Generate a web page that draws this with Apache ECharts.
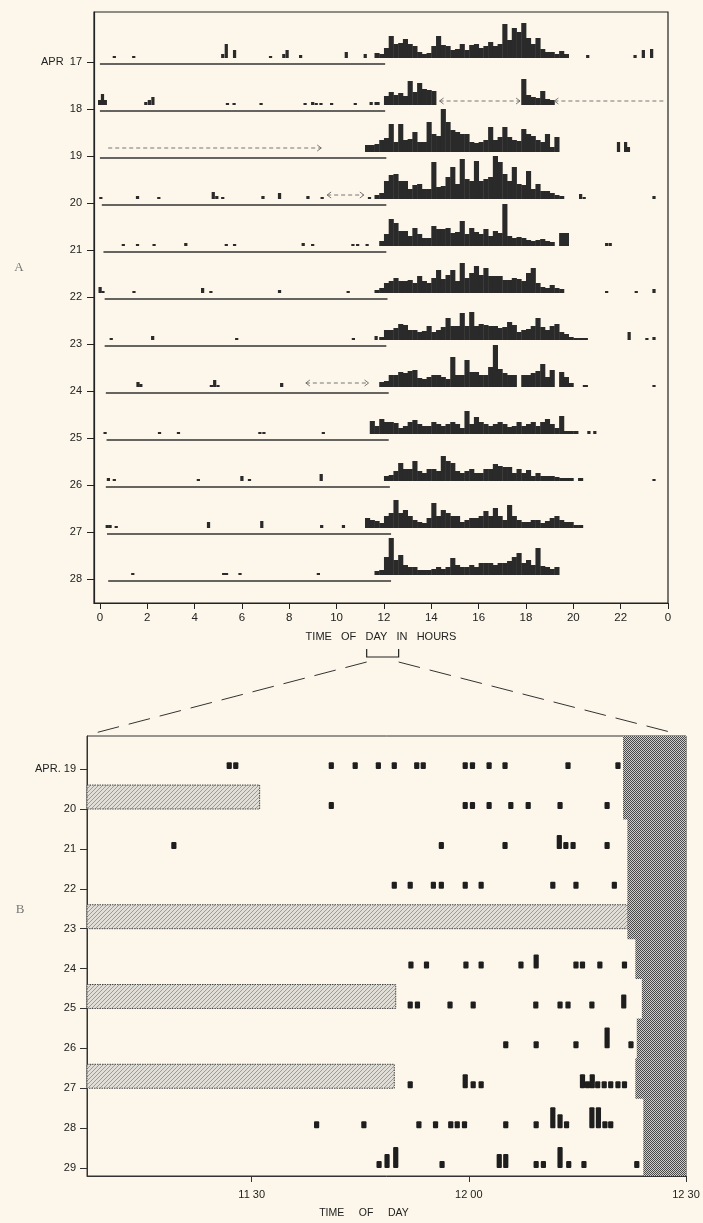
<!DOCTYPE html>
<html><head><meta charset="utf-8">
<script src="https://cdn.jsdelivr.net/npm/echarts@6/dist/echarts.min.js"></script>
<style>html,body{margin:0;padding:0;background:#fcf7ea;} #c{width:703px;height:1223px;}</style>
</head><body><div id="c"></div>
<script>
// ================= PANEL A DATA (hours, activity counts) =================
const daysA = ['APR  17','18','19','20','21','22','23','24','25','26','27','28'];
const hourTicks = [0,2,4,6,8,10,12,14,16,18,20,22,24];
const binHours = 0.2;
const actStart = [11.6, 11.6, 11.2, 11.6, 11.6, 11.6, 11.8, 11.8, 11.4, 12.0, 11.2, 11.6];
const act17 = [5,4,10,22,14,15,19,14,12,6,4,5,12,22,13,12,8,9,14,8,13,14,10,12,16,12,14,34,18,30,26,35,20,14,20,9,6,6,4,7,4];
const act18 = [3,0,9,13,10,12,9,24,13,22,16,15,14,0,0,0,0,0,0,0,0,0,0,0,0,0,0,0,0,0,0,26,10,8,7,14,6,5];
const act19 = [7,7,8,12,14,28,10,28,12,13,20,10,10,30,18,16,43,30,22,20,18,18,10,9,10,12,25,12,15,25,15,12,11,23,18,16,12,10,18,5,15];
const act20 = [4,6,18,24,25,18,18,10,14,15,10,10,37,12,13,22,32,15,40,20,18,38,18,20,22,43,37,25,18,32,15,14,28,10,15,8,8,6,4,3];
const act21 = [0,5,12,27,23,15,15,10,18,12,8,8,20,17,17,18,13,14,25,12,18,14,12,17,10,15,13,42,10,8,9,8,6,5,6,7,5,4,0,13,13];
const act22 = [3,5,10,12,15,12,12,13,10,17,12,10,15,23,14,18,23,12,30,15,20,27,18,25,17,17,17,13,13,15,14,12,20,25,10,6,5,8,5,4];
const act23 = [3,10,10,12,16,15,10,10,8,9,14,8,10,13,22,14,14,27,14,28,14,16,15,14,14,12,13,18,15,8,10,11,14,22,13,10,14,16,8,6,3,2,2,2];
const act24 = [5,6,12,12,15,14,16,17,9,8,10,12,12,10,8,30,12,12,27,15,15,12,12,20,42,18,14,12,12,0,12,12,14,16,23,10,17,0,15,10,4,0,0,2];
const act25 = [13,8,15,12,12,11,6,8,12,14,10,8,8,12,10,8,10,12,10,6,23,10,17,12,10,8,10,12,10,7,8,12,8,10,12,8,12,15,10,6,18,3,3,3];
const act26 = [5,6,10,18,12,12,20,10,8,12,12,10,25,20,18,10,8,10,12,8,8,12,12,17,15,14,14,8,12,8,11,5,8,5,5,5,4,3,3,3,0,3];
const act27 = [10,8,7,5,12,15,28,15,18,12,8,6,5,10,25,12,18,15,12,12,6,8,10,10,12,17,12,20,12,8,23,12,8,6,6,8,8,5,7,10,12,8,6,6,3,3];
const act28 = [4,5,18,37,15,20,10,8,8,5,5,5,6,8,6,8,17,10,8,8,10,8,12,12,12,10,12,12,14,18,22,12,15,10,27,9,8,6,8];
// isolated activity bursts: [hour, count]
const spots17 = [[0.6,2],[1.42,2],[5.18,4],[5.33,14],[5.68,8],[7.2,2],[7.76,4],[7.9,8],[8.47,3],[10.4,6],[11.2,4],[20.6,3],[22.6,3],[22.95,8],[23.3,9]];
const spots18 = [[-0.02,5],[0.1,11],[0.22,5],[1.93,3],[2.08,5],[2.23,8],[5.38,2],[5.66,2],[6.8,2],[8.66,2],[8.98,3],[9.13,2],[9.33,2],[9.78,2],[10.78,2],[11.45,3]];
const spots19 = [[21.9,10],[22.2,10],[22.32,5]];
const spots20 = [[0.03,2],[1.58,3],[2.48,2],[4.78,7],[4.93,3],[5.18,2],[6.88,3],[7.58,6],[8.78,3],[9.38,2],[11.38,2],[20.3,5],[20.45,2],[23.4,3]];
const spots21 = [[0.98,2],[1.58,2],[2.28,2],[3.62,3],[5.33,2],[5.68,2],[8.58,3],[8.98,2],[10.68,2],[10.88,2],[11.28,2],[21.4,3],[21.55,3]];
const spots22 = [[0.0,6],[0.12,2],[1.43,2],[4.33,5],[4.68,2],[7.58,3],[10.48,2],[21.4,2],[22.65,2],[23.4,4]];
const spots23 = [[0.47,2],[2.22,4],[5.77,2],[10.7,2],[11.66,4],[22.35,8],[23.1,2],[23.4,3]];
const spots24 = [[1.6,5],[1.72,3],[4.7,2],[4.84,7],[4.98,2],[7.67,4],[23.4,2]];
const spots25 = [[0.21,2],[2.51,2],[3.31,2],[6.75,2],[6.92,2],[9.43,2],[20.65,3],[20.9,3]];
const spots26 = [[0.35,3],[0.6,2],[4.15,2],[5.99,5],[6.31,2],[9.34,7],[23.4,2]];
const spots27 = [[0.3,3],[0.42,3],[0.68,2],[4.58,6],[6.83,7],[9.36,3],[10.28,3]];
const spots28 = [[1.38,2],[5.22,2],[5.34,2],[5.91,2],[9.22,2]];
// dark-period underline per day: [from hour, to hour]
const underline = [[0.0,12.05],[0.0,12.05],[0.0,12.1],[0.08,12.1],[0.15,12.1],[0.2,12.15],[0.2,12.1],[0.25,12.2],[0.28,12.2],[0.25,12.25],[0.3,12.3],[0.35,12.3]];
// missing-record arrows: [day index, from hour, to hour, left head, right head]
const arrowsA = [[1,14.35,17.75,1,1],[1,19.2,23.9,1,0],[2,0.35,9.35,0,1],[3,9.6,11.15,1,1],[7,8.7,11.35,1,1]];
const zoomSpan = [11.27, 12.62];

// ================= PANEL B DATA (minutes after 11:00, units) =================
const daysB = ['APR. 19','20','21','22','23','24','25','26','27','28','29'];
const minuteTicks = [30, 60, 90];
const minuteLabels = ['11 30','12 00','12 30'];
const marks19 = [[26.9,1],[27.8,1],[41.0,1],[44.3,1],[47.5,1],[49.7,1],[52.8,1],[53.7,1],[59.5,1],[60.5,1],[62.8,1],[65.0,1],[73.7,1],[80.6,1]];
const marks20 = [[41.0,1],[59.5,1],[60.5,1],[62.8,1],[65.8,1],[68.2,1],[72.6,1],[79.1,1]];
const marks21 = [[19.25,1],[56.2,1],[65.0,1],[72.5,2],[73.4,1],[74.4,1],[79.1,1]];
const marks22 = [[49.7,1],[51.9,1],[55.1,1],[56.2,1],[59.5,1],[61.7,1],[71.6,1],[74.8,1],[80.1,1]];
const marks23 = [];
const marks24 = [[52.0,1],[54.15,1],[59.6,1],[61.7,1],[67.2,1],[69.3,2],[74.8,1],[75.7,1],[78.1,1],[81.5,1]];
const marks25 = [[51.9,1],[52.9,1],[57.4,1],[60.6,1],[69.25,1],[72.6,1],[73.7,1],[77.0,1],[81.4,2]];
const marks26 = [[65.1,1],[69.3,1],[74.8,1],[79.1,3],[82.4,1]];
const marks27 = [[51.9,1],[59.5,2],[60.6,1],[61.7,1],[75.7,2],[76.4,1],[77.05,2],[77.8,1],[78.7,1],[79.6,1],[80.6,1],[81.5,1]];
const marks28 = [[38.97,1],[45.5,1],[53.1,1],[55.4,1],[57.5,1],[58.4,1],[59.4,1],[65.1,1],[69.3,1],[71.6,3],[72.6,2],[73.5,1],[77.0,3],[77.9,3],[78.8,1],[79.6,1]];
const marks29 = [[47.6,1],[48.7,2],[49.9,3],[56.3,1],[64.2,2],[65.1,2],[69.3,1],[70.3,1],[72.6,3],[73.8,1],[75.9,1],[83.2,1]];
// inactive (hatched) spans: [day index, from minute, to minute]
const restBars = [[1,7.25,31.1],[4,7.25,82.0],[6,7.25,49.9],[8,7.25,49.7]];
// lights-on minute per day
const lightsOn = [81.3, 81.3, 81.9, 81.9, 81.9, 83.0, 83.9, 83.2, 83.0, 84.1, 84.1];

// ================= BUILD =================
const FONT = "'Liberation Sans', Arial, sans-serif";
const INK = '#2a2a2a';
const ROW = 47, SPOT_W = 0.12, SQ_W = 0.72, UNIT = 0.175, REST_H = 0.6;
const A_MIN = -28, A_MAX = 563, B_MIN = -0.2, B_MAX = 10.83, BX_MIN = 7.25, BX_MAX = 90;
const baseOf = k => (11 - k) * ROW;

const actAll = [act17,act18,act19,act20,act21,act22,act23,act24,act25,act26,act27,act28];
const spotsAll = [spots17,spots18,spots19,spots20,spots21,spots22,spots23,spots24,spots25,spots26,spots27,spots28];
const histData = [];
actAll.forEach((arr,k)=>arr.forEach((c,i)=>{ if(c>0) histData.push([k, actStart[k]+i*binHours, c, binHours]); }));
spotsAll.forEach((arr,k)=>arr.forEach(s=>histData.push([k, s[0]-SPOT_W/2, s[1], SPOT_W])));
const ulData = underline.map((u,k)=>[k,u[0],u[1]]);

const marksAll = [marks19,marks20,marks21,marks22,marks23,marks24,marks25,marks26,marks27,marks28,marks29];
const markData = [];
marksAll.forEach((arr,j)=>arr.forEach(m=>markData.push([j, m[0], m[1]])));
const darkData = lightsOn.map((m,j)=>[j, m]);

function makePattern(kind){
  const c = document.createElement('canvas');
  if(kind==='hatch'){
    c.width = c.height = 4; const g = c.getContext('2d');
    g.fillStyle = '#e0ded7'; g.fillRect(0,0,4,4);
    g.strokeStyle = '#94928c'; g.lineWidth = 0.9;
    g.beginPath(); g.moveTo(0,4); g.lineTo(4,0); g.moveTo(-1,1); g.lineTo(1,-1); g.moveTo(3,5); g.lineTo(5,3); g.stroke();
  } else {
    c.width = c.height = 2; const g = c.getContext('2d');
    g.fillStyle = '#cfccc5'; g.fillRect(0,0,2,2);
    g.fillStyle = '#4a4a4a'; g.fillRect(0,0,1,1); g.fillRect(1,1,1,1);
  }
  return {image: c, repeat: 'repeat'};
}
const HATCH = makePattern('hatch'), DARK = makePattern('dark');

const axisText = {color:'#222', fontSize:11.5, fontFamily: FONT};
const option = {
  backgroundColor: '#fcf7ea',
  animation: false,
  grid: [
    {left:94, top:12, width:574, height:591, show:true, borderColor:'#222', borderWidth:1.2, backgroundColor:'transparent'},
    {left:87, top:736, width:599, height:440, show:true, borderColor:'#333', borderWidth:1, backgroundColor:'transparent'}
  ],
  xAxis: [
    {gridIndex:0, type:'value', min:-0.25, max:24,
     axisLine:{show:true, onZero:false, lineStyle:{color:'#222', width:1.2}},
     axisTick:{show:true, customValues:hourTicks, length:6, lineStyle:{color:'#222'}},
     axisLabel:Object.assign({customValues:hourTicks, margin:9, formatter:v=> v===24 ? '0' : String(v)}, axisText),
     splitLine:{show:false},
     name:'TIME   OF   DAY   IN   HOURS', nameLocation:'middle', nameGap:28,
     nameTextStyle:{color:'#222', fontSize:11, fontFamily:FONT}},
    {gridIndex:1, type:'value', min:BX_MIN, max:BX_MAX,
     axisLine:{show:true, onZero:false, lineStyle:{color:'#333', width:1}},
     axisTick:{show:true, customValues:minuteTicks, length:6, lineStyle:{color:'#333'}},
     axisLabel:Object.assign({customValues:minuteTicks, margin:13, formatter:v=>minuteLabels[minuteTicks.indexOf(v)]}, axisText, {fontSize:11}),
     splitLine:{show:false}}
  ],
  yAxis: [
    {gridIndex:0, type:'value', min:A_MIN, max:A_MAX,
     axisLine:{show:true, onZero:false, lineStyle:{color:'#222', width:1.2}},
     axisTick:{show:true, customValues:daysA.map((d,k)=>baseOf(k)-4), length:7, lineStyle:{color:'#222'}},
     axisLabel:Object.assign({customValues:daysA.map((d,k)=>baseOf(k)-4), margin:12,
       formatter:v=>daysA[11-Math.round((v+4)/ROW)]}, axisText, {fontSize:11}),
     splitLine:{show:false}},
    {gridIndex:1, type:'value', min:B_MIN, max:B_MAX,
     axisLine:{show:true, onZero:false, lineStyle:{color:'#333', width:1}},
     axisTick:{show:true, customValues:[0,1,2,3,4,5,6,7,8,9,10], length:7, lineStyle:{color:'#333'}},
     axisLabel:Object.assign({customValues:[0,1,2,3,4,5,6,7,8,9,10], margin:11,
       formatter:v=>daysB[10-Math.round(v)]}, axisText, {fontSize:11}),
     splitLine:{show:false}}
  ],
  series: [
    {type:'custom', xAxisIndex:0, yAxisIndex:0, data:ulData, encode:{x:[1,2]}, silent:true,
     renderItem:(p,api)=>{
       const k=api.value(0), y=baseOf(k)-6;
       const a=api.coord([api.value(1),y]), b=api.coord([api.value(2),y]);
       return {type:'line', shape:{x1:a[0],y1:a[1],x2:b[0],y2:b[1]}, style:{stroke:'#333', lineWidth:1.3}};
     }},
    {type:'custom', xAxisIndex:0, yAxisIndex:0, data:histData, encode:{x:1, y:2}, silent:true,
     renderItem:(p,api)=>{
       const k=api.value(0), h=api.value(1), c=api.value(2), w=api.value(3), b=baseOf(k);
       const p0=api.coord([h,b]), p1=api.coord([h+w,b+c]);
       return {type:'rect', shape:{x:p0[0], y:p1[1], width:Math.max(1.6,p1[0]-p0[0]+0.4), height:p0[1]-p1[1]}, style:{fill:INK}};
     }},
    {type:'custom', xAxisIndex:0, yAxisIndex:0, data:arrowsA, encode:{x:[1,2]}, silent:true,
     renderItem:(p,api)=>{
       const k=api.value(0), y=baseOf(k)+4;
       const a=api.coord([api.value(1),y]), b=api.coord([api.value(2),y]);
       const kids=[{type:'line', shape:{x1:a[0],y1:a[1],x2:b[0],y2:b[1]}, style:{stroke:'#666', lineWidth:0.9, lineDash:[4,3]}}];
       if(api.value(3)) kids.push({type:'polyline', shape:{points:[[a[0]+4,a[1]-3],[a[0],a[1]],[a[0]+4,a[1]+3]]}, style:{stroke:'#666', lineWidth:0.9, fill:null}});
       if(api.value(4)) kids.push({type:'polyline', shape:{points:[[b[0]-4,b[1]-3],[b[0],b[1]],[b[0]-4,b[1]+3]]}, style:{stroke:'#666', lineWidth:0.9, fill:null}});
       return {type:'group', children:kids};
     }},
    {type:'custom', xAxisIndex:1, yAxisIndex:1, data:restBars, encode:{x:[1,2]}, silent:true,
     renderItem:(p,api)=>{
       const v=10-api.value(0);
       const a=api.coord([api.value(1),v+REST_H]), b=api.coord([api.value(2),v]);
       return {type:'rect', shape:{x:a[0], y:a[1], width:b[0]-a[0], height:b[1]-a[1]},
               style:{fill:HATCH, stroke:'#444', lineWidth:1, lineDash:[1.5,1]}};
     }},
    {type:'custom', xAxisIndex:1, yAxisIndex:1, data:darkData, encode:{x:1}, silent:true, clip:true,
     renderItem:(p,api)=>{
       const j=api.value(0), v=10-j;
       const top = j===0 ? B_MAX : v+0.75, bot = j===10 ? B_MIN : v-0.25;
       const a=api.coord([api.value(1),top]), b=api.coord([BX_MAX,bot]);
       return {type:'rect', shape:{x:a[0], y:a[1], width:b[0]-a[0], height:b[1]-a[1]+0.5}, style:{fill:DARK}};
     }},
    {type:'custom', xAxisIndex:1, yAxisIndex:1, data:markData, encode:{x:1}, silent:true,
     renderItem:(p,api)=>{
       const v=10-api.value(0), m=api.value(1), c=api.value(2);
       const a=api.coord([m-SQ_W/2, v+c*UNIT]), b=api.coord([m+SQ_W/2, v]);
       return {type:'rect', shape:{x:a[0], y:a[1], width:b[0]-a[0], height:b[1]-a[1], r:1}, style:{fill:'#1e1e1e'}};
     }}
  ]
};
const chart = echarts.init(document.getElementById('c'));
chart.setOption(option);

// connectors (bracket on panel A axis and zoom guide lines to panel B)
const xL = chart.convertToPixel({gridIndex:0}, [zoomSpan[0], 0])[0];
const xR = chart.convertToPixel({gridIndex:0}, [zoomSpan[1], 0])[0];
const bTL = chart.convertToPixel({gridIndex:1}, [BX_MIN, B_MAX]);
const bTR = chart.convertToPixel({gridIndex:1}, [BX_MAX, B_MAX]);
chart.setOption({graphic:[
  {type:'polyline', silent:true, shape:{points:[[xL,649],[xL,657],[xR,657],[xR,649]]}, style:{stroke:'#222', lineWidth:1.2, fill:null}},
  {type:'line', silent:true, shape:{x1:xL, y1:662, x2:bTL[0]+8, y2:bTL[1]-3}, style:{stroke:'#333', lineWidth:1, lineDash:[22,10]}},
  {type:'line', silent:true, shape:{x1:xR, y1:662, x2:bTR[0]-16, y2:bTR[1]-4}, style:{stroke:'#333', lineWidth:1, lineDash:[22,10]}},
  {type:'text', silent:true, x:19, y:268, style:{text:'A', fill:'#777', font:"13px 'Liberation Serif', serif", align:'center', verticalAlign:'middle'}},
  {type:'text', silent:true, x:20, y:910, style:{text:'B', fill:'#777', font:"13px 'Liberation Serif', serif", align:'center', verticalAlign:'middle'}},
  {type:'text', silent:true, x:364, y:1213, style:{text:'TIME     OF     DAY', fill:'#222', font:"10.5px 'Liberation Sans', Arial, sans-serif", align:'center', verticalAlign:'middle'}}
]});
</script></body></html>
